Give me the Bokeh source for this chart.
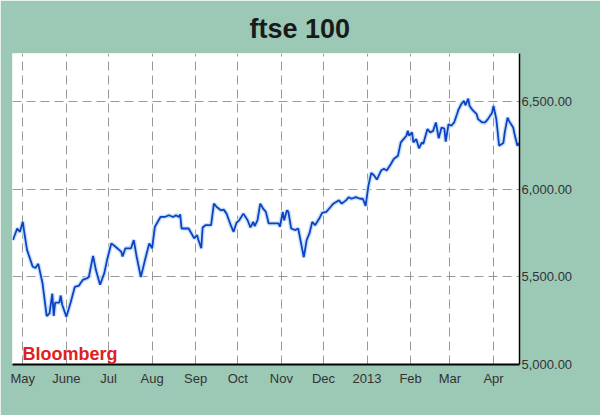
import pandas as pd
from bokeh.plotting import figure
from bokeh.models import (Range1d, FixedTicker, NumeralTickFormatter, Label, BoxAnnotation)
from bokeh.embed import file_html
from bokeh.resources import INLINE

# ---- data ----
dates = [
    "2012-04-24", "2012-04-27", "2012-04-29", "2012-05-01", "2012-05-02", "2012-05-04",
    "2012-05-08", "2012-05-10", "2012-05-12", "2012-05-15", "2012-05-18", "2012-05-20",
    "2012-05-22", "2012-05-23", "2012-05-24", "2012-05-27", "2012-05-28", "2012-05-29",
    "2012-06-01", "2012-06-04", "2012-06-07", "2012-06-10", "2012-06-12", "2012-06-13",
    "2012-06-16", "2012-06-17", "2012-06-20", "2012-06-22", "2012-06-25", "2012-06-28",
    "2012-06-30", "2012-07-03", "2012-07-06", "2012-07-10", "2012-07-11", "2012-07-13",
    "2012-07-17", "2012-07-19", "2012-07-21", "2012-07-24", "2012-07-27", "2012-07-30",
    "2012-08-01", "2012-08-03", "2012-08-07", "2012-08-10", "2012-08-13", "2012-08-16",
    "2012-08-18", "2012-08-20", "2012-08-21", "2012-08-22", "2012-08-27", "2012-08-31",
    "2012-09-02", "2012-09-03", "2012-09-05", "2012-09-06", "2012-09-08", "2012-09-12",
    "2012-09-14", "2012-09-16", "2012-09-19", "2012-09-21", "2012-09-23", "2012-09-26",
    "2012-09-28", "2012-09-30", "2012-10-02", "2012-10-05", "2012-10-08", "2012-10-10",
    "2012-10-12", "2012-10-13", "2012-10-15", "2012-10-17", "2012-10-19", "2012-10-21",
    "2012-10-23", "2012-10-27", "2012-10-30", "2012-10-31", "2012-11-02", "2012-11-03",
    "2012-11-05", "2012-11-06", "2012-11-08", "2012-11-11", "2012-11-13", "2012-11-17",
    "2012-11-19", "2012-11-21", "2012-11-23", "2012-11-25", "2012-11-28", "2012-11-30",
    "2012-12-03", "2012-12-06", "2012-12-08", "2012-12-12", "2012-12-14", "2012-12-17",
    "2012-12-19", "2012-12-21", "2012-12-24", "2012-12-27", "2012-12-29", "2012-12-31",
    "2013-01-02", "2013-01-04", "2013-01-06", "2013-01-08", "2013-01-11", "2013-01-13",
    "2013-01-15", "2013-01-18", "2013-01-20", "2013-01-23", "2013-01-25", "2013-01-27",
    "2013-01-29", "2013-01-30", "2013-01-31", "2013-02-02", "2013-02-03", "2013-02-05",
    "2013-02-07", "2013-02-09", "2013-02-10", "2013-02-13", "2013-02-15", "2013-02-17",
    "2013-02-19", "2013-02-21", "2013-02-23", "2013-02-25", "2013-02-26", "2013-02-28",
    "2013-03-02", "2013-03-04", "2013-03-06", "2013-03-07", "2013-03-09", "2013-03-11",
    "2013-03-12", "2013-03-14", "2013-03-15", "2013-03-17", "2013-03-20", "2013-03-21",
    "2013-03-24", "2013-03-26", "2013-03-28", "2013-03-31", "2013-04-01", "2013-04-03",
    "2013-04-05", "2013-04-08", "2013-04-09", "2013-04-11", "2013-04-12", "2013-04-15",
    "2013-04-16", "2013-04-18", "2013-04-19",
]
ftse = [
    5711, 5777, 5758, 5815, 5758, 5655,
    5560, 5551, 5575, 5466, 5277, 5292,
    5405, 5277, 5353, 5353, 5394, 5343,
    5273, 5353, 5443, 5451, 5475, 5485,
    5494, 5500, 5621, 5541, 5456, 5522,
    5598, 5692, 5673, 5645, 5617, 5664,
    5664, 5711, 5617, 5500, 5598, 5692,
    5664, 5787, 5843, 5843, 5853, 5843,
    5853, 5843, 5858, 5777, 5777, 5721,
    5740, 5711, 5664, 5783, 5796, 5796,
    5919, 5900, 5881, 5885, 5862, 5796,
    5758, 5809, 5824, 5862, 5824, 5783,
    5815, 5790, 5824, 5919, 5891, 5872,
    5806, 5806, 5806, 5787, 5872, 5824,
    5881, 5872, 5777, 5768, 5777, 5613,
    5711, 5749, 5815, 5796, 5834, 5866,
    5872, 5900, 5919, 5938, 5919, 5938,
    5956, 5947, 5956, 5947, 5947, 5906,
    6023, 6095, 6080, 6057, 6108, 6118,
    6108, 6146, 6174, 6193, 6269, 6288,
    6307, 6335, 6307, 6326, 6269, 6288,
    6235, 6269, 6260, 6345, 6326, 6335,
    6383, 6292, 6354, 6348, 6273, 6373,
    6364, 6383, 6430, 6455, 6487, 6506,
    6481, 6519, 6477, 6455, 6430, 6402,
    6383, 6383, 6402, 6439, 6477, 6402,
    6250, 6265, 6326, 6411, 6392, 6354,
    6316, 6250, 6265,
]
month_ticks = ["2012-05-01", "2012-06-01", "2012-07-01", "2012-08-01", "2012-09-01",
               "2012-10-01", "2012-11-01", "2012-12-01", "2013-01-01", "2013-02-01",
               "2013-03-01", "2013-04-01"]
month_labels = ["May", "June", "Jul", "Aug", "Sep", "Oct", "Nov", "Dec", "2013",
                "Feb", "Mar", "Apr"]
y_ticks = [5000, 5500, 6000, 6500]

TEAL = "#9cc8b6"

x = pd.to_datetime(dates)
tick_ms = [pd.Timestamp(d).value / 1e6 for d in month_ticks]

x_start = pd.Timestamp("2012-04-23 16:00")
x_end = pd.Timestamp("2013-04-19 12:00")

p = figure(
    x_axis_type="datetime", y_axis_location="right",
    x_range=Range1d(x_start, x_end), y_range=Range1d(5000, 6777),
    frame_width=507, frame_height=311, width=600, height=415,
    min_border_left=12, min_border_right=81, min_border_top=53, min_border_bottom=51,
    output_backend="svg", toolbar_location=None,
)
p.border_fill_color = TEAL
p.background_fill_color = "white"
p.outline_line_color = None

# title
p.title.text = "ftse 100"
p.title.align = "left"
p.title.offset = 237
p.title.text_font = "Liberation Sans"
p.title.text_font_style = "bold"
p.title.text_font_size = "27px"
p.title.text_color = "#1a1a1a"
if "standoff" in p.title.properties():
    p.title.standoff = 20

# white panel behind the plot and its axis labels
panel = BoxAnnotation(left=0, right=576, top=311, bottom=-36,
                      left_units="screen", right_units="screen",
                      top_units="screen", bottom_units="screen",
                      fill_color="white", fill_alpha=1.0, line_color=None,
                      level="image")
p.add_layout(panel)

# grids
p.xgrid.ticker = FixedTicker(ticks=tick_ms)
p.ygrid.ticker = FixedTicker(ticks=y_ticks)
for g in (p.xgrid[0], p.ygrid[0]):
    g.grid_line_color = "#999999"
    g.grid_line_dash = "9 5"
    g.grid_line_width = 1

# line with light halo
p.line(x, ftse, line_color="#c4ddf5", line_width=4.5, line_alpha=0.9)
p.line(x, ftse, line_color="#0c43c4", line_width=1.8)

# x axis
xa = p.xaxis[0]
xa.ticker = FixedTicker(ticks=tick_ms)
xa.major_label_overrides = {t: lab for t, lab in zip(tick_ms, month_labels)}
xa.major_label_text_align = "left"
xa.major_label_text_font = "Liberation Sans"
xa.major_label_text_font_size = "13px"
xa.major_label_text_color = "#333333"
xa.major_label_standoff = 6
xa.major_tick_out = 0
xa.major_tick_in = 0
xa.minor_tick_out = 0
xa.minor_tick_in = 0
xa.axis_line_color = "black"
xa.axis_line_width = 2

# y axis (right)
ya = p.yaxis[0]
ya.ticker = FixedTicker(ticks=y_ticks)
ya.formatter = NumeralTickFormatter(format="0,0.00")
ya.major_label_text_font = "Liberation Sans"
ya.major_label_text_font_size = "13px"
ya.major_label_text_color = "#333333"
ya.major_label_text_baseline = "top"
ya.major_label_standoff = 2
ya.major_tick_out = 0
ya.major_tick_in = 0
ya.minor_tick_out = 0
ya.minor_tick_in = 0
ya.axis_line_color = "black"
ya.axis_line_width = 1.5

# source label
p.add_layout(Label(x=10, y=11, x_units="screen", y_units="screen",
                   text="Bloomberg", text_align="left", text_baseline="alphabetic",
                   text_font="Liberation Sans", text_font_style="bold",
                   text_font_size="18px", text_color="#e02020"))

open("out.html", "w").write(file_html(p, INLINE))
